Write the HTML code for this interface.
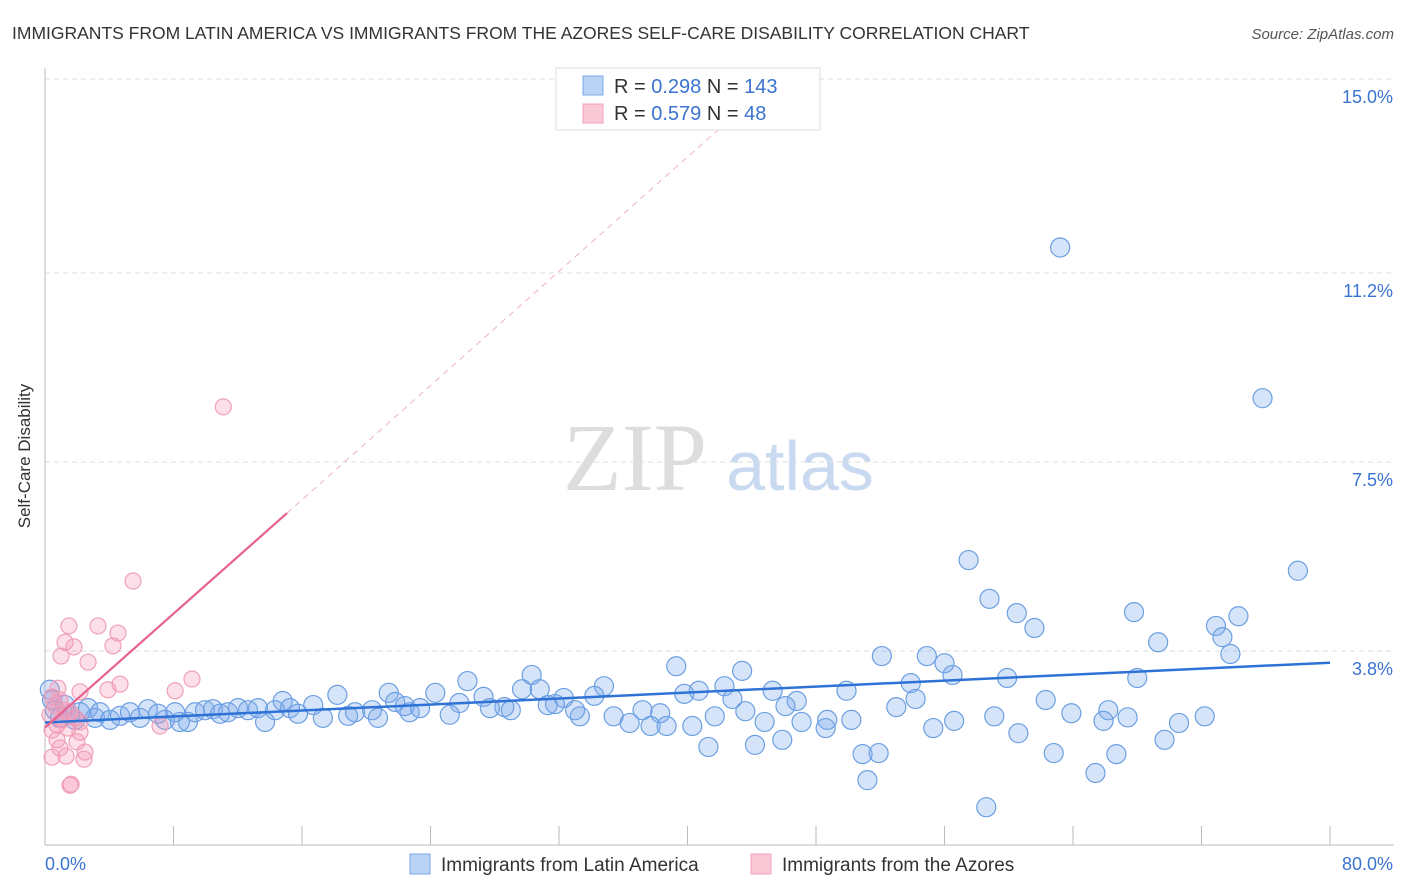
<!DOCTYPE html>
<html><head><meta charset="utf-8"><style>
body{margin:0;background:#fff;font-family:"Liberation Sans",sans-serif;}
#wrap{position:relative;width:1406px;height:892px;overflow:hidden;}
</style></head><body>
<div id="wrap">
<svg id="chart" width="1406" height="892" xmlns="http://www.w3.org/2000/svg">
<text x="12" y="39" font-size="17.5" fill="#333">IMMIGRANTS FROM LATIN AMERICA VS IMMIGRANTS FROM THE AZORES SELF-CARE DISABILITY CORRELATION CHART</text>
<text x="1394" y="39" font-size="15" fill="#555" font-style="italic" text-anchor="end">Source: ZipAtlas.com</text>
<text x="30" y="456" font-size="17" fill="#333" text-anchor="middle" transform="rotate(-90 30 456)">Self-Care Disability</text>
<text x="635" y="490" font-size="96" fill="#ddd" font-family="Liberation Serif,serif" text-anchor="middle">ZIP</text>
<text x="800" y="490" font-size="70" fill="#c9d9f0" text-anchor="middle">atlas</text>
<g id="grid"></g><g id="axes"></g><g id="blue"></g><g id="pink"></g><g id="trend"></g>
<g>
<rect x="556" y="68" width="264" height="62" fill="#fff" stroke="#ddd"/>
<rect x="583" y="76" width="20" height="19" fill="#b9d3f5" stroke="#7eaae6"/>
<rect x="583" y="104" width="20" height="19" fill="#fbc8d7" stroke="#f0a0b8"/>
<text x="614" y="93" font-size="20" fill="#333">R = <tspan fill="#3a73d0">0.298</tspan>   N = <tspan fill="#3a73d0">143</tspan></text>
<text x="614" y="120" font-size="20" fill="#333">R = <tspan fill="#3a73d0">0.579</tspan>   N = <tspan fill="#3a73d0">  48</tspan></text>
</g>
<g>
<rect x="410" y="854" width="20" height="20" fill="#b9d3f5" stroke="#7eaae6"/>
<text x="441" y="871" font-size="19" fill="#333">Immigrants from Latin America</text>
<rect x="751" y="854" width="20" height="20" fill="#fbc8d7" stroke="#f0a0b8"/>
<text x="782" y="871" font-size="19" fill="#333">Immigrants from the Azores</text>
</g>
</svg>
</div>
<script>
const yTicks=[3.8,7.5,11.2,15.0];
const yTickLabels=["3.8%","7.5%","11.2%","15.0%"];
const xTickCount=10;
const xLabels=["0.0%","80.0%"];
const blueX=[63.2,75.8,57.5,78.0,58.8,67.8,60.5,74.3,61.6,72.9,73.3,69.3,73.8,52.1,54.9,56.0,39.3,43.4,56.5,68.0,59.9,26.3,30.3,34.8,42.3,53.9,29.7,30.8,40.7,39.8,45.3,49.9,21.4,18.2,24.3,54.2,62.3,46.8,34.2,32.3,14.8,16.7,21.8,27.3,31.3,42.8,53.0,46.1,22.4,25.8,28.6,43.6,37.2,66.2,63.9,38.3,72.2,59.1,41.7,35.4,33.3,67.4,56.6,50.2,65.9,44.8,47.1,48.7,70.6,36.4,37.7,38.7,40.3,48.6,55.3,60.6,45.9,69.7,41.3,44.2,50.9,51.9,62.8,66.7,65.4,51.2,58.6,
0.3,0.44,0.62,0.93,1.25,1.56,1.87,2.18,2.68,3.11,3.42,4.05,4.67,5.29,5.91,6.41,7.04,7.47,8.1,8.4,8.9,9.34,9.96,10.46,10.9,11.39,12.02,12.64,13.26,13.7,14.32,15.25,15.75,17.3,18.87,19.3,20.36,20.73,22.7,23.35,25.2,27.7,29.0,31.75,33.0];
const blueY=[11.7,8.75,5.58,5.37,4.82,4.56,4.54,4.48,4.25,4.29,4.07,3.97,3.74,3.70,3.70,3.56,3.50,3.41,3.33,3.27,3.27,3.21,3.33,3.11,3.11,3.17,3.05,3.05,3.02,2.96,3.02,3.02,2.98,2.94,2.98,2.86,2.84,2.82,2.92,2.88,2.82,2.74,2.80,2.90,2.74,2.86,2.70,2.72,2.72,2.78,2.70,2.62,2.64,2.64,2.58,2.58,2.52,2.52,2.52,2.52,2.52,2.50,2.43,2.45,2.43,2.41,2.41,2.45,2.39,2.39,2.33,2.33,2.33,2.29,2.29,2.19,2.06,2.06,1.92,1.96,1.78,1.80,1.80,1.78,1.41,1.27,0.74,
3.04,2.84,2.64,2.49,2.74,2.55,2.45,2.60,2.68,2.49,2.60,2.45,2.53,2.60,2.49,2.66,2.57,2.45,2.60,2.41,2.41,2.60,2.64,2.66,2.57,2.60,2.68,2.64,2.68,2.41,2.64,2.68,2.57,2.49,2.53,2.60,2.64,2.49,2.60,2.68,2.55,2.68,2.64,2.76,2.64];
const pinkX=[11.1,5.48,1.49,3.3,4.54,1.25,1.8,4.23,1.0,2.68,9.15,4.67,2.18,3.92,8.1,0.8,0.44,0.93,0.62,1.25,1.56,0.31,1.87,1.06,2.18,0.75,1.43,7.16,0.44,2.18,0.75,1.99,0.93,2.49,1.31,2.43,0.44,1.62,1.56];
const pinkY=[8.58,5.17,4.29,4.29,4.15,3.97,3.88,3.90,3.70,3.58,3.25,3.15,3.0,3.04,3.02,3.07,2.90,2.84,2.74,2.64,2.60,2.55,2.49,2.45,2.41,2.35,2.29,2.33,2.25,2.21,2.06,2.02,1.90,1.82,1.74,1.68,1.72,1.19,1.17];
const blueTrend=[[0,2.40],[80,3.57]];
const pinkTrendSolid=[[0,2.30],[15.07,6.50]];
const pinkTrendDash=[[15.07,6.50],[42.6,14.2]];
const NS="http://www.w3.org/2000/svg";
const X0=45,X1=1330,Y0=845,YTOP=79;
const xs=v=>X0+v/80*(X1-X0);
const ys=v=>Y0-v/15*(Y0-YTOP);
function mk(tag,parent,attrs){const e=document.createElementNS(NS,tag);for(const k in attrs)e.setAttribute(k,attrs[k]);document.getElementById(parent).appendChild(e);return e;}
yTicks.forEach((t,i)=>{
 const l=mk('line','grid',{x1:X0,x2:1394,y1:ys(t),y2:ys(t),stroke:'#ddd','stroke-dasharray':'5,4'});
 
 
 const tx=mk('text','grid',{x:1393,y:ys(t)+24,'font-size':18,fill:'#3a73d0','text-anchor':'end'});
 tx.textContent=yTickLabels[i];
 
 
});
let a=mk('line','axes',{x1:X0,x2:X0,y1:68,y2:Y0,stroke:'#bbb'});


a=mk('line','axes',{x1:X0,x2:1394,y1:Y0,y2:Y0,stroke:'#bbb'});


for(let i=1;i<=xTickCount;i++){const v=i*80/xTickCount;
 const t=mk('line','axes',{x1:xs(v),x2:xs(v),y1:826,y2:Y0,stroke:'#bbb'});
 
 }
let xl=mk('text','axes',{x:45,y:870,'font-size':18,fill:'#3a73d0'});xl.textContent=xLabels[0];


xl=mk('text','axes',{x:1393,y:870,'font-size':18,fill:'#3a73d0','text-anchor':'end'});xl.textContent=xLabels[1];


blueX.forEach((v,i)=>{const c=mk('circle','blue',{cx:xs(v),cy:ys(blueY[i]),r:9.5,fill:'rgba(120,165,235,0.3)',stroke:'#6c9fe2','stroke-width':1.2});
 
 });
pinkX.forEach((v,i)=>{const c=mk('circle','pink',{cx:xs(v),cy:ys(pinkY[i]),r:8,fill:'rgba(245,150,180,0.3)',stroke:'#f0a0b8','stroke-width':1.2});
 
 });
let tl=mk('line','trend',{x1:xs(blueTrend[0][0]),y1:ys(blueTrend[0][1]),x2:xs(blueTrend[1][0]),y2:ys(blueTrend[1][1]),stroke:'#2f72d6','stroke-width':2.5});


tl=mk('line','trend',{x1:xs(pinkTrendSolid[0][0]),y1:ys(pinkTrendSolid[0][1]),x2:xs(pinkTrendSolid[1][0]),y2:ys(pinkTrendSolid[1][1]),stroke:'#e8628f','stroke-width':2.2});


tl=mk('line','trend',{x1:xs(pinkTrendDash[0][0]),y1:ys(pinkTrendDash[0][1]),x2:xs(pinkTrendDash[1][0]),y2:ys(pinkTrendDash[1][1]),stroke:'#eeb0c4','stroke-width':1,'stroke-dasharray':'6,5'});


</script>
</body></html>
